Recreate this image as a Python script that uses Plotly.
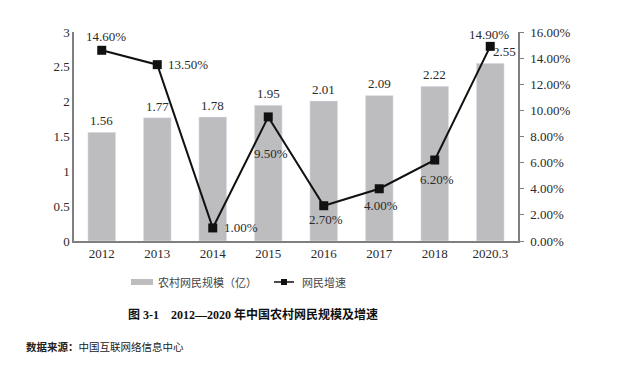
import plotly.graph_objects as go

categories = ["2012", "2013", "2014", "2015", "2016", "2017", "2018", "2020.3"]
users = [1.56, 1.77, 1.78, 1.95, 2.01, 2.09, 2.22, 2.55]
growth = [14.60, 13.50, 1.00, 9.50, 2.70, 4.00, 6.20, 14.90]
left_ticks = [0, 0.5, 1, 1.5, 2, 2.5, 3]
right_ticks = [0, 2, 4, 6, 8, 10, 12, 14, 16]

# label offsets (pixels) for growth labels
g_off = [(4, 14, "center"), (9, 0, "left"), (9, 0, "left"), (3, -37, "center"),
         (2, -14, "center"), (2, -17, "center"), (2, -19, "center"), (-1, 12, "center")]

SERIF = "Liberation Serif, Times New Roman, Noto Sans CJK SC"
CJK = "Liberation Serif, Noto Sans CJK SC"
TXT = "#2a2a2a"

L, R, T, B = 74, 518, 32, 241
def px(x):
    return (x - L) / (R - L)
def py(y):
    return (B - y) / (B - T)

fig = go.Figure()
fig.add_trace(go.Bar(x=categories, y=users, marker_color="#bdbdbf", width=0.5,
                     name="农村网民规模（亿）", showlegend=False))
fig.add_trace(go.Scatter(x=categories, y=growth, yaxis="y2", mode="lines+markers",
                         line=dict(color="#111111", width=2),
                         marker=dict(symbol="square", size=9, color="#111111"),
                         name="网民增速", showlegend=False))

ann = []
for i, v in enumerate(users):
    ann.append(dict(x=i, y=v, xref="x", yref="y", text=f"{v:.2f}", showarrow=False,
                    yanchor="bottom", yshift=2, xshift=(14 if i == len(users) - 1 else 0),
                    font=dict(family=SERIF, size=13, color=TXT)))
for i, (v, (dx, dy, xa)) in enumerate(zip(growth, g_off)):
    ann.append(dict(x=i, y=v, xref="x", yref="y2", text=f"{v:.2f}%", showarrow=False,
                    xanchor=xa, yanchor="middle", xshift=dx, yshift=dy,
                    font=dict(family=SERIF, size=13, color=TXT)))

# custom legend
ann.append(dict(x=px(156), y=py(282), xref="paper", yref="paper", text="农村网民规模（亿）",
                showarrow=False, xanchor="left", yanchor="middle",
                font=dict(family=CJK, size=11, color="#444444")))
ann.append(dict(x=px(300), y=py(282), xref="paper", yref="paper", text="网民增速",
                showarrow=False, xanchor="left", yanchor="middle",
                font=dict(family=CJK, size=11, color="#444444")))
# title and source
ann.append(dict(x=px(253), y=py(314), xref="paper", yref="paper",
                text="<b>图 3-1　2012—2020 年中国农村网民规模及增速</b>",
                showarrow=False, xanchor="center", yanchor="middle",
                font=dict(family=CJK, size=12, color="#111111")))
ann.append(dict(x=px(24), y=py(347), xref="paper", yref="paper",
                text="<b>数据来源：</b>中国互联网络信息中心",
                showarrow=False, xanchor="left", yanchor="middle",
                font=dict(family=CJK, size=10.5, color="#222222")))

shapes = [
    dict(type="rect", xref="paper", yref="paper", x0=px(131), x1=px(153), y0=py(285), y1=py(279),
         fillcolor="#bdbdbf", line=dict(width=0)),
    dict(type="line", xref="paper", yref="paper", x0=px(274), x1=px(294), y0=py(282), y1=py(282),
         line=dict(color="#111111", width=1.5)),
    dict(type="rect", xref="paper", yref="paper", x0=px(281), x1=px(287), y0=py(285), y1=py(279),
         fillcolor="#111111", line=dict(width=0)),
]

fig.update_layout(
    width=640, height=366,
    margin=dict(l=L, r=640 - R, t=T, b=366 - B, autoexpand=False),
    paper_bgcolor="white", plot_bgcolor="white",
    showlegend=False,
    annotations=ann, shapes=shapes,
    xaxis=dict(type="category", range=[-0.5, len(categories) - 0.5], autorange=False,
               showline=True, linecolor="#7f7f7f", linewidth=1.5, ticks="",
               tickfont=dict(family=SERIF, size=13, color=TXT), showgrid=False),
    yaxis=dict(range=[0, 3], tickvals=left_ticks, showline=True, linecolor="#7f7f7f",
               linewidth=1.5, showgrid=False, zeroline=False, ticks="",
               tickfont=dict(family=SERIF, size=13, color=TXT)),
    yaxis2=dict(range=[0, 16], tickvals=right_ticks,
                ticktext=[f"{t:.2f}%" for t in right_ticks],
                overlaying="y", side="right", showline=True, linecolor="#7f7f7f",
                linewidth=1.5, showgrid=False, zeroline=False, ticks="outside",
                ticklen=4, tickcolor="#7f7f7f", ticklabelstandoff=4,
                tickfont=dict(family=SERIF, size=13, color=TXT)),
)

fig.write_html("out.html", config={"displayModeBar": False},
               post_script="document.body.style.margin='0';")
